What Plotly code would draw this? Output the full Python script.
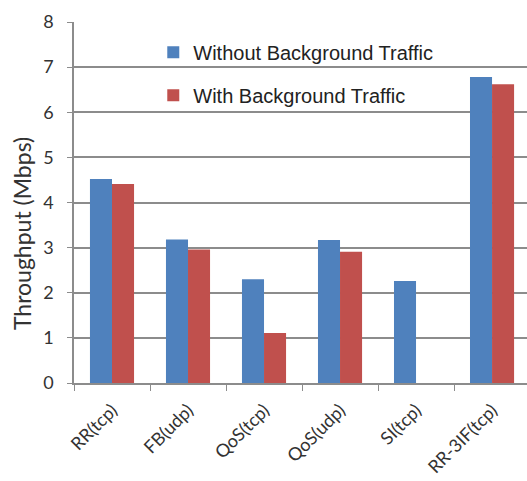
import plotly.graph_objects as go

categories = ["RR(tcp)", "FB(udp)", "QoS(tcp)", "QoS(udp)", "SI(tcp)", "RR-3IF(tcp)"]
without_bg = [4.52, 3.18, 2.30, 3.17, 2.26, 6.78]
with_bg = [4.41, 2.96, 1.11, 2.91, None, 6.62]
y_ticks = [0, 1, 2, 3, 4, 5, 6, 7, 8]

fig = go.Figure()
fig.add_trace(go.Bar(x=categories, y=without_bg, name="Without Background Traffic",
                     marker=dict(color="#4F81BD", line=dict(width=0)), legendgroup="a"))
fig.add_trace(go.Bar(x=categories, y=with_bg, name="With Background Traffic",
                     marker=dict(color="#C0504D", line=dict(width=0)), legendgroup="b"))

fig.update_layout(
    width=527, height=481,
    margin=dict(l=74, r=0, t=22, b=98),
    plot_bgcolor="white", paper_bgcolor="white",
    barmode="group", bargap=0.42, bargroupgap=0,
    showlegend=True,
    legend=dict(x=0.175, y=0.97, xanchor="left", yanchor="top",
                bgcolor="rgba(0,0,0,0)", font=dict(family="Liberation Sans, Arial", size=20, color="#222"),
                tracegroupgap=14, itemwidth=30, traceorder="grouped"),
    font=dict(family="Lato, Open Sans", size=18, color="#333"),
)
fig.update_yaxes(range=[0, 8], tickvals=y_ticks, showgrid=True, gridcolor="#8c8c8c", gridwidth=1.5,
                 showline=True, linecolor="#8c8c8c", linewidth=1.5, ticks="outside", ticklen=5,
                 tickcolor="#8c8c8c", zeroline=False, ticklabelstandoff=10,
                 tickfont=dict(size=18, color="#333"))
fig.update_xaxes(range=[-0.5, 5.46], showline=True, linecolor="#8c8c8c", linewidth=1.5,
                 ticks="outside", tickson="boundaries", ticklen=6, tickcolor="#8c8c8c",
                 tickangle=-45, ticklabelstandoff=8, tickfont=dict(size=18, color="#333"))
fig.add_annotation(text="Throughput (Mbps)", textangle=-90, xref="paper", yref="y",
                   x=0, xanchor="center", xshift=-52, y=3.3, showarrow=False,
                   font=dict(family="Lato, Open Sans", size=23, color="#333"))

fig.write_html("out.html")
